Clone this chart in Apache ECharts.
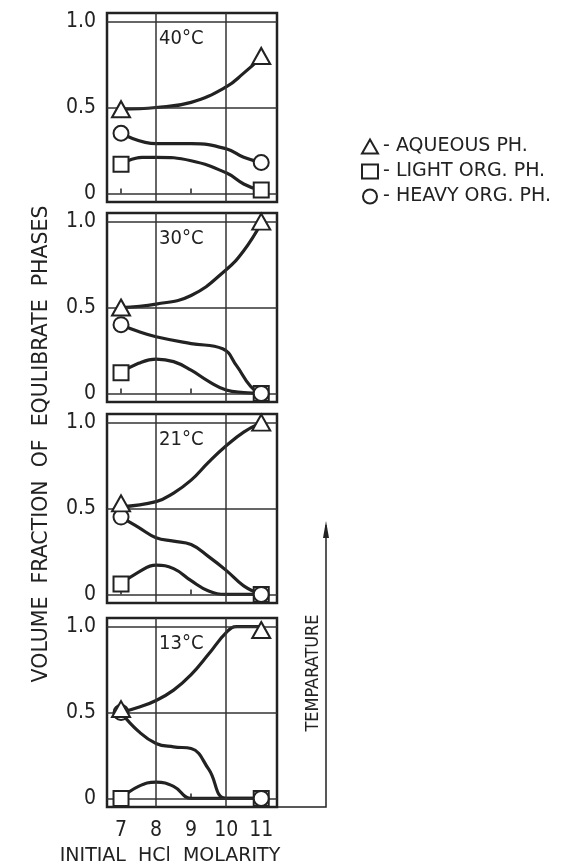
<!DOCTYPE html>
<html>
  <head>
    <meta charset="utf-8" />
    <title>Volume fraction of equilibrate phases</title>
    <script src="https://cdn.jsdelivr.net/npm/echarts@6/dist/echarts.min.js"></script>
  </head>
  <body style="margin:0;background:#fff;">
    <div id="container" style="width:576px;height:867px;"></div>
    <script type="text/javascript">
    // 数据: 各温度下的测点 (7 M 和 11 M) 与手绘曲线
    var temps = ['40°C', '30°C', '21°C', '13°C'];
    var xTicks = [7, 8, 9, 10, 11];
    var yTicks = [0, 0.5, 1];

    // 测点 [7 M, 11 M]
    var aqueousPts = [[0.49, 0.80], [0.50, 1.0], [0.53, 1.0], [0.52, 0.98]];
    var lightPts = [[0.17, 0.02], [0.12, 0.0], [0.06, 0.0], [0.0, 0.0]];
    var heavyPts = [[0.35, 0.18], [0.40, 0.0], [0.45, 0.0], [0.50, 0.0]];

    // 曲线
    var aqueous40 = [[7, 0.49], [8, 0.50], [9, 0.53], [10, 0.62], [10.5, 0.70], [11, 0.79]];
    var light40 = [[7, 0.17], [7.6, 0.21], [8, 0.21], [9, 0.19], [10, 0.12], [10.5, 0.055], [11, 0.015]];
    var heavy40 = [[7, 0.35], [8, 0.29], [9, 0.29], [10, 0.26], [10.5, 0.21], [11, 0.18]];

    var aqueous30 = [[7, 0.50], [8, 0.52], [9, 0.57], [10, 0.72], [10.5, 0.83], [11, 0.99]];
    var light30 = [[7, 0.12], [7.5, 0.175], [8, 0.20], [8.5, 0.185], [9, 0.135], [9.5, 0.07], [10, 0.02], [10.5, 0.005], [11, 0]];
    var heavy30 = [[7, 0.40], [7.5, 0.36], [8, 0.33], [9, 0.29], [9.9, 0.26], [10.3, 0.16], [10.7, 0.04], [11, 0]];

    var aqueous21 = [[7, 0.51], [8, 0.54], [8.5, 0.59], [9, 0.665], [9.5, 0.77], [10, 0.865], [10.5, 0.945], [11, 1.0]];
    var light21 = [[7, 0.06], [7.5, 0.13], [8, 0.17], [8.5, 0.15], [9, 0.08], [9.5, 0.02], [10, 0], [11, 0]];
    var heavy21 = [[7, 0.45], [7.5, 0.39], [8, 0.33], [8.5, 0.31], [9, 0.29], [9.5, 0.22], [10, 0.14], [10.5, 0.05], [11, 0]];

    var aqueous13 = [[7, 0.50], [7.5, 0.53], [8, 0.57], [8.5, 0.63], [9, 0.72], [9.5, 0.84], [10, 0.965], [10.3, 1.0], [11, 1.0]];
    var light13 = [[7, 0], [7.5, 0.07], [8, 0.095], [8.5, 0.07], [9, 0], [10, 0], [11, 0]];
    var heavy13 = [[7, 0.50], [7.5, 0.39], [8, 0.32], [8.5, 0.30], [9, 0.29], [9.5, 0.17], [10, 0], [11, 0]];

    var aqueousCurves = [aqueous40, aqueous30, aqueous21, aqueous13];
    var lightCurves = [light40, light30, light21, light13];
    var heavyCurves = [heavy40, heavy30, heavy21, heavy13];

    // 布局
    var font = 'DejaVu Sans Condensed';
    var font2 = 'DejaVu Sans';
    var ink = '#222';
    var gridLeft = 107, gridWidth = 170, gridHeight = 189;
    var gridTops = [13, 213, 414, 618];
    var xMin = 6.6, xMax = 11.45;

    function xPix(v) { return gridLeft + (v - xMin) / (xMax - xMin) * gridWidth; }

    var grids = [], xAxes = [], yAxes = [], series = [], graphics = [];

    for (var i = 0; i < 4; i++) {
        grids.push({
            left: gridLeft, top: gridTops[i], width: gridWidth, height: gridHeight,
            show: true, borderColor: ink, borderWidth: 2.5, backgroundColor: 'transparent'
        });
        xAxes.push({
            type: 'value', gridIndex: i, min: xMin, max: xMax,
            axisLine: { show: false },
            splitLine: { show: false },
            axisTick: { show: true, inside: true, length: 5, customValues: [7, 9, 11], lineStyle: { color: ink, width: 1.5 } },
            axisLabel: { show: i === 3, customValues: xTicks, fontSize: 21, color: ink, fontFamily: font, margin: 13 }
        });
        yAxes.push({
            type: 'value', gridIndex: i, min: -0.05, max: 1.05,
            axisLine: { show: false },
            splitLine: { show: false },
            axisTick: { show: false },
            axisLabel: {
                customValues: yTicks, fontSize: 21, color: ink, fontFamily: font, margin: 11,
                formatter: function (v) { return v === 0 ? '0' : v.toFixed(1); }
            }
        });

        var curveStyle = { color: ink, width: 3.2 };
        // 网格线
        series.push({
            type: 'line', xAxisIndex: i, yAxisIndex: i, data: lightCurves[i],
            smooth: 0.45, showSymbol: false, symbol: 'none', lineStyle: curveStyle, silent: true,
            markLine: {
                silent: true, symbol: 'none', label: { show: false },
                lineStyle: { color: '#333', width: 1.5, type: 'solid' },
                data: [{ xAxis: 8 }, { xAxis: 10 }, { yAxis: 0 }, { yAxis: 0.5 }, { yAxis: 1 }]
            }
        });
        series.push({
            type: 'line', xAxisIndex: i, yAxisIndex: i, data: heavyCurves[i],
            smooth: 0.45, showSymbol: false, symbol: 'none', lineStyle: curveStyle, silent: true
        });
        series.push({
            type: 'line', xAxisIndex: i, yAxisIndex: i, data: aqueousCurves[i],
            smooth: 0.45, showSymbol: false, symbol: 'none', lineStyle: curveStyle, silent: true
        });

        var mStyle = { color: '#fff', borderColor: ink, borderWidth: 2, opacity: 1 };
        series.push({
            name: 'LIGHT ORG. PH.', type: 'scatter', xAxisIndex: i, yAxisIndex: i, z: 5,
            symbol: 'rect', symbolSize: 15, itemStyle: mStyle,
            data: [[7, lightPts[i][0]], [11, lightPts[i][1]]]
        });
        series.push({
            name: 'HEAVY ORG. PH.', type: 'scatter', xAxisIndex: i, yAxisIndex: i, z: 6,
            symbol: 'circle', symbolSize: 15, itemStyle: mStyle,
            data: [[7, heavyPts[i][0]], [11, heavyPts[i][1]]]
        });
        series.push({
            name: 'AQUEOUS PH.', type: 'scatter', xAxisIndex: i, yAxisIndex: i, z: 7,
            symbol: 'triangle', symbolSize: [18, 16], itemStyle: mStyle,
            data: [[7, aqueousPts[i][0]], [11, aqueousPts[i][1]]]
        });

        graphics.push({
            type: 'text', left: xPix(8) + 3, top: gridTops[i] + 16,
            style: { text: temps[i], font: '20px "' + font + '"', fill: ink }
        });
    }

    // 坐标轴标题
    graphics.push({
        type: 'text', x: 42, y: 444, rotation: Math.PI / 2,
        style: { text: 'VOLUME  FRACTION  OF  EQULIBRATE  PHASES', font: '20.5px "' + font2 + '"', fill: ink, align: 'center', verticalAlign: 'middle' }
    });
    graphics.push({
        type: 'text', x: 170, y: 856,
        style: { text: 'INITIAL  HCl  MOLARITY', font: '19px "' + font2 + '"', fill: ink, align: 'center', verticalAlign: 'middle' }
    });
    // 温度箭头
    graphics.push({
        type: 'polyline',
        shape: { points: [[gridLeft + gridWidth, gridTops[3] + gridHeight], [326, gridTops[3] + gridHeight], [326, 525]] },
        style: { stroke: ink, lineWidth: 1.5, fill: null }
    });
    graphics.push({
        type: 'polygon',
        shape: { points: [[323, 538], [326, 521], [329, 538]] },
        style: { fill: ink }
    });
    graphics.push({
        type: 'text', x: 313, y: 673, rotation: Math.PI / 2,
        style: { text: 'TEMPARATURE', font: '18px "' + font + '"', fill: ink, align: 'center', verticalAlign: 'middle' }
    });

    var myChart = echarts.init(document.getElementById('container'));
    var option = {
        backgroundColor: '#fff',
        animation: false,
        grid: grids,
        xAxis: xAxes,
        yAxis: yAxes,
        legend: {
            data: ['AQUEOUS PH.', 'LIGHT ORG. PH.', 'HEAVY ORG. PH.'],
            orient: 'vertical', left: 356, top: 132,
            itemWidth: 16, itemHeight: 14, itemGap: 6,
            formatter: function (name) { return '- ' + name; },
            textStyle: { fontSize: 19, color: ink, fontFamily: font2 }
        },
        series: series,
        graphic: graphics
    };
    myChart.setOption(option);
    window.addEventListener('resize', myChart.resize);
    </script>
  </body>
</html>
